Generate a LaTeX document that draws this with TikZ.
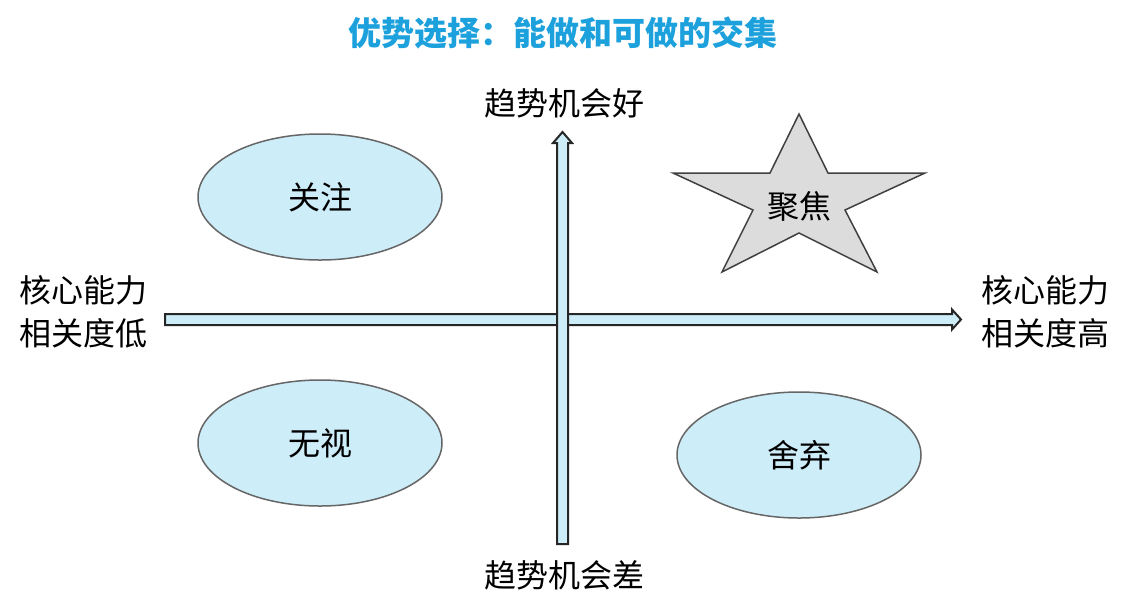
\documentclass[tikz,border=0pt]{standalone}
\usepackage{fontspec}
\setmainfont{Noto Sans CJK SC}
\usetikzlibrary{shapes.geometric,positioning}
\definecolor{quadfill}{HTML}{CDEDF9}
\definecolor{titleblue}{HTML}{1DA1DC}
\definecolor{starfill}{HTML}{DCDCDC}
\tikzset{
    quad/.style={
           ellipse,
           draw=black!60, line width=1.5pt,
           fill=quadfill,
           minimum width=244pt,
           minimum height=126pt,
           font=\fontsize{32}{38}\selectfont
           },
    axislabel/.style={
           align=center,
           inner sep=0pt,
           font=\fontsize{32}{43}\selectfont
           },
    axis/.style={
           draw=black!85, line width=2pt,
           fill=quadfill
           },
    focus/.style={
           draw=black!75, line width=1.5pt,
           fill=starfill
           }
}
\begin{document}
\begin{tikzpicture}[x=1pt,y=-1pt]
   \useasboundingbox (0,0) rectangle (1123,606);
   \node[text=titleblue, font=\fontsize{33}{40}\selectfont\bfseries] (title) at (563,33) {优势选择：能做和可做的交集};

   % axes
   \coordinate (xlo) at (165,319.5);
   \coordinate (xhi) at (961,319.5);
   \coordinate (ylo) at (562.5,544);
   \coordinate (yhi) at (562.5,132);
   \draw[axis] ([yshift=5.5pt]xlo) -- ([xshift=-9pt,yshift=5.5pt]xhi) -- ([xshift=-9pt,yshift=10pt]xhi)
      -- (xhi) -- ([xshift=-9pt,yshift=-10pt]xhi) -- ([xshift=-9pt,yshift=-5.5pt]xhi) -- ([yshift=-5.5pt]xlo) -- cycle;
   \draw[axis] ([xshift=-5.5pt]ylo) -- ([xshift=-5.5pt,yshift=-11pt]yhi) -- ([xshift=-9.5pt,yshift=-11pt]yhi)
      -- (yhi) -- ([xshift=9.5pt,yshift=-11pt]yhi) -- ([xshift=5.5pt,yshift=-11pt]yhi) -- ([xshift=5.5pt]ylo) -- cycle;

   \node[axislabel] (good) at (564,103) {趋势机会好};
   \node[axislabel] (poor) at (564,575) {趋势机会差};
   \node[axislabel] (low)  at (83,312)  {核心能力\\相关度低};
   \node[axislabel] (high) at (1045,312) {核心能力\\相关度高};

   % quadrants
   \node[quad] (watch)  at (320,197) {关注};
   \node[quad] (ignore) at (320,443) {无视};
   \node[quad] (drop)   at (799,455) {舍弃};

   \draw[focus] (799,114) -- (828,173) -- (925,173) -- (845,210) -- (877,272) -- (799,233)
      -- (722,272) -- (753,210) -- (673,173) -- (770,173) -- cycle;
   \node[axislabel] (gather) at (799,206) {聚焦};
\end{tikzpicture}
\end{document}
